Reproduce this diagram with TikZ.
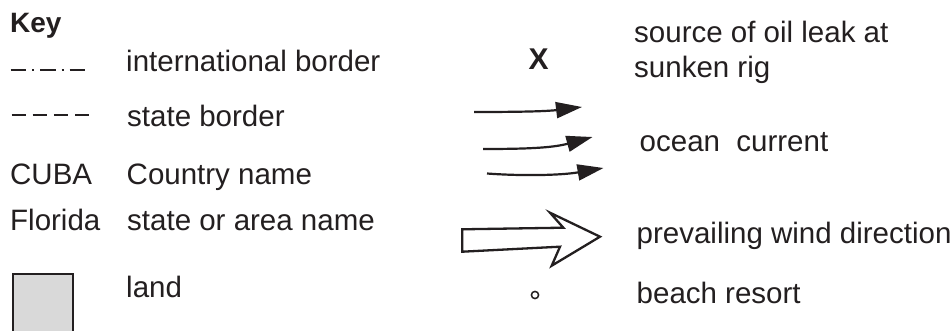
\documentclass[tikz,border=0pt]{standalone}
\usepackage{fontspec}
\setmainfont{Liberation Sans}
\usetikzlibrary{arrows.meta}
\definecolor{ink}{HTML}{231F20}
\definecolor{landgray}{HTML}{D9D9D9}
\begin{document}
\begin{tikzpicture}[x=1pt,y=-1pt,
  lbl/.style={anchor=base west,inner sep=0pt,text=ink,font=\fontsize{29.5}{34}\selectfont},
  boldlbl/.style={anchor=base west,inner sep=0pt,text=ink,font=\fontsize{28}{32}\selectfont\bfseries},
  current/.style={line width=2.2pt,ink,-{Triangle[length=26pt,width=16pt]}},
  wind/.style={line width=2.3pt,ink,fill=white,line join=miter},
  landbox/.style={line width=2.3pt,ink,fill=landgray}]
\useasboundingbox (0,0) rectangle (950,331);
\fill[white] (0,0) rectangle (950,331);
% key title
\node[boldlbl] (key) at (10,33) {Key};
% international border
\coordinate (ib1) at (10.5,70);
\coordinate (ib2) at (86,70);
\draw[line width=2.4pt,ink,dash pattern=on 15.5pt off 6pt on 2pt off 6pt] (ib1) -- (ib2);
\node[lbl] (ibt) at (126,72) {international border};
% state border
\coordinate (sb1) at (11.5,115);
\coordinate (sb2) at (90,115);
\draw[line width=2.2pt,ink,dash pattern=on 14pt off 7.2pt] (sb1) -- (sb2);
\node[lbl] (sbt) at (127,127) {state border};
% country
\node[lbl] (cuba) at (10,185) {CUBA};
\node[lbl] (cnt) at (126.5,185) {Country name};
% state name
\node[lbl] (fl) at (10,230) {Florida};
\node[lbl] (snt) at (127,230) {state or area name};
% land
\draw[landbox] (13,274) rectangle (73,345);
\node[lbl] (landt) at (126,297) {land};
% oil leak
\node[anchor=base,inner sep=0pt,text=ink,font=\fontsize{30}{34}\selectfont\bfseries] (x) at (538.5,70) {X};
\node[lbl] (oil1) at (634,43) {source of oil leak at};
\node[lbl] (oil2) at (634,77.3) {sunken rig};
% ocean current
\coordinate (c1a) at (474,112);
\coordinate (c1b) at (582,107);
\coordinate (c2a) at (483,149);
\coordinate (c2b) at (592.5,137);
\coordinate (c3a) at (487,173.5);
\coordinate (c3b) at (603.5,168);
\draw[current] (c1a) .. controls (515,112) and (545,111.5) .. (c1b);
\draw[current] (c2a) .. controls (525,149) and (552,148) .. (c2b);
\draw[current] (c3a) .. controls (520,176) and (560,175.5) .. (c3b);
\node[lbl] (oc) at (639.5,152) {ocean\ \ current};
% wind
\draw[wind] (462.3,229.3) -- (563.3,227.7) -- (550,212.7) -- (600,236.7) -- (551.7,265.7) -- (560,246.7) -- (462.3,251.7) -- cycle;
\node[lbl] (wt) at (636.5,243.3) {prevailing wind direction};
% beach resort
\draw[line width=1.5pt,ink] (535,295) circle (3.6pt);
\node[lbl] (br) at (636.5,303.3) {beach resort};
\end{tikzpicture}
\end{document}
